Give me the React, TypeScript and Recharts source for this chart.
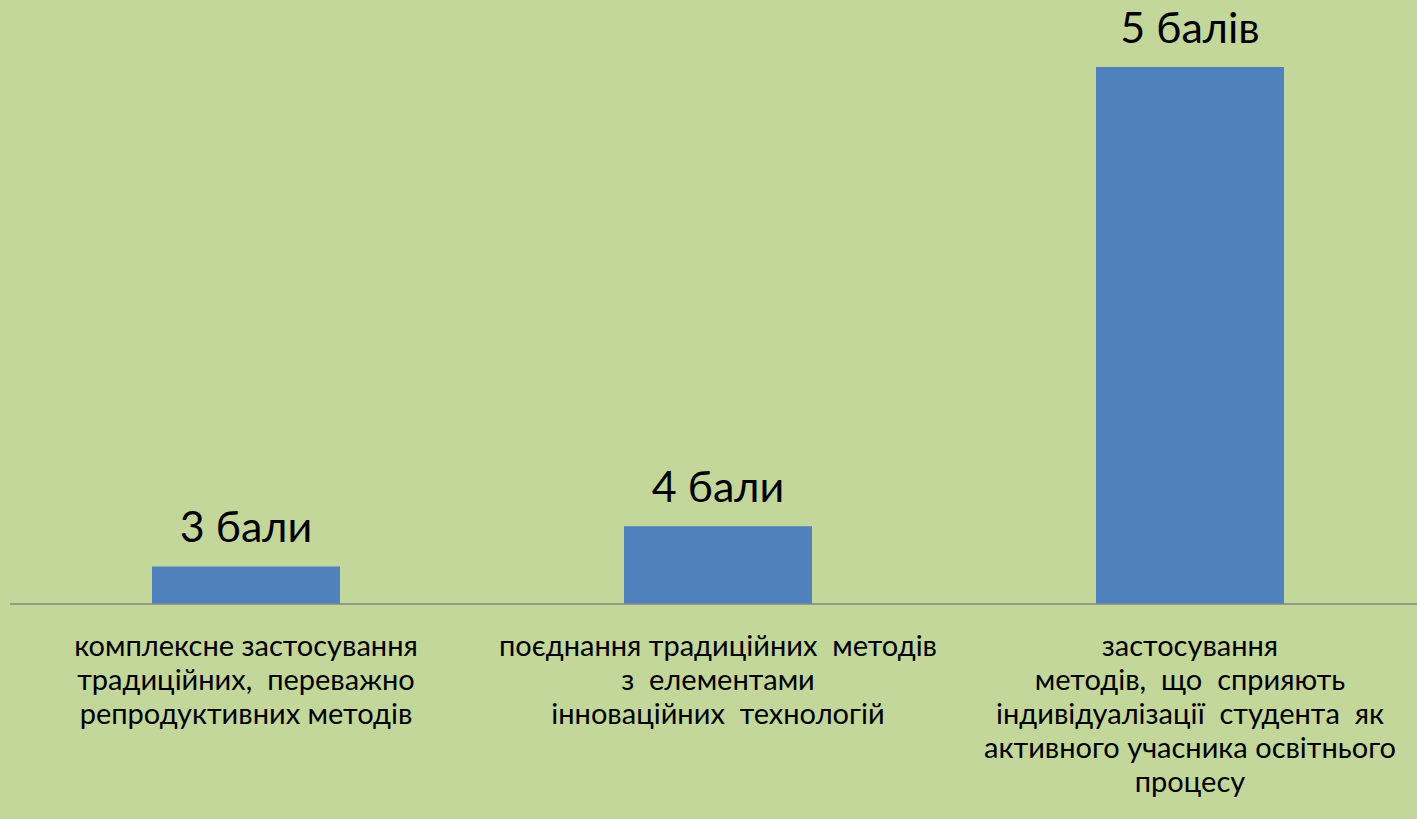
import React from "react";
import { BarChart, Bar, XAxis, YAxis, LabelList } from "recharts";

const categories = ["c1", "c2", "c3"];
const categoryLines = [
  ["комплексне застосування", "традиційних,  переважно", "репродуктивних методів"],
  ["поєднання традиційних  методів", "з  елементами", "інноваційних  технологій"],
  [
    "застосування",
    "методів,  що  сприяють",
    "індивідуалізації  студента  як",
    "активного учасника освітнього",
    "процесу",
  ],
];
const values = [0.7, 1.45, 10];
const valueLabels = ["3 бали", "4 бали", "5 балів"];

const data = categories.map((c, i) => ({
  name: c,
  value: values[i],
  label: valueLabels[i],
  idx: i,
}));

const FONT = "Lato, 'Open Sans', sans-serif";

const CategoryTick = (props: any) => {
  const { x, y, payload } = props;
  const lines = categoryLines[payload.index] || [];
  return (
    <text x={x} y={y} textAnchor="middle" fill="#000" fontFamily={FONT} fontSize={29}>
      {lines.map((l, i) => (
        <tspan key={i} x={x} y={y + 44 + i * 34} style={{ whiteSpace: "pre" }}>
          {l}
        </tspan>
      ))}
    </text>
  );
};

const ValueLabel = (props: any) => {
  const { x, y, width, value } = props;
  return (
    <text
      x={x + width / 2}
      y={y - 24}
      textAnchor="middle"
      fill="#000"
      fontFamily={FONT}
      fontSize={43}
    >
      {value}
    </text>
  );
};

export default function App() {
  return (
    <div
      style={{
        position: "fixed",
        left: 0,
        top: 0,
        width: 1417,
        height: 819,
        overflow: "hidden",
        background: "#c4d79b",
      }}
    >
      <BarChart
        width={1426}
        height={819}
        data={data}
        margin={{ top: 67, right: 0, left: 10, bottom: 15 }}
      >
        <XAxis
          dataKey="name"
          height={200}
          axisLine={{ stroke: "#868686", strokeWidth: 1.5 }}
          tickLine={false}
          tick={<CategoryTick />}
          interval={0}
        />
        <YAxis hide domain={[0, 10]} />
        <Bar dataKey="value" fill="#4f81bd" barSize={188} isAnimationActive={false}>
          <LabelList dataKey="label" content={<ValueLabel />} />
        </Bar>
      </BarChart>
    </div>
  );
}
